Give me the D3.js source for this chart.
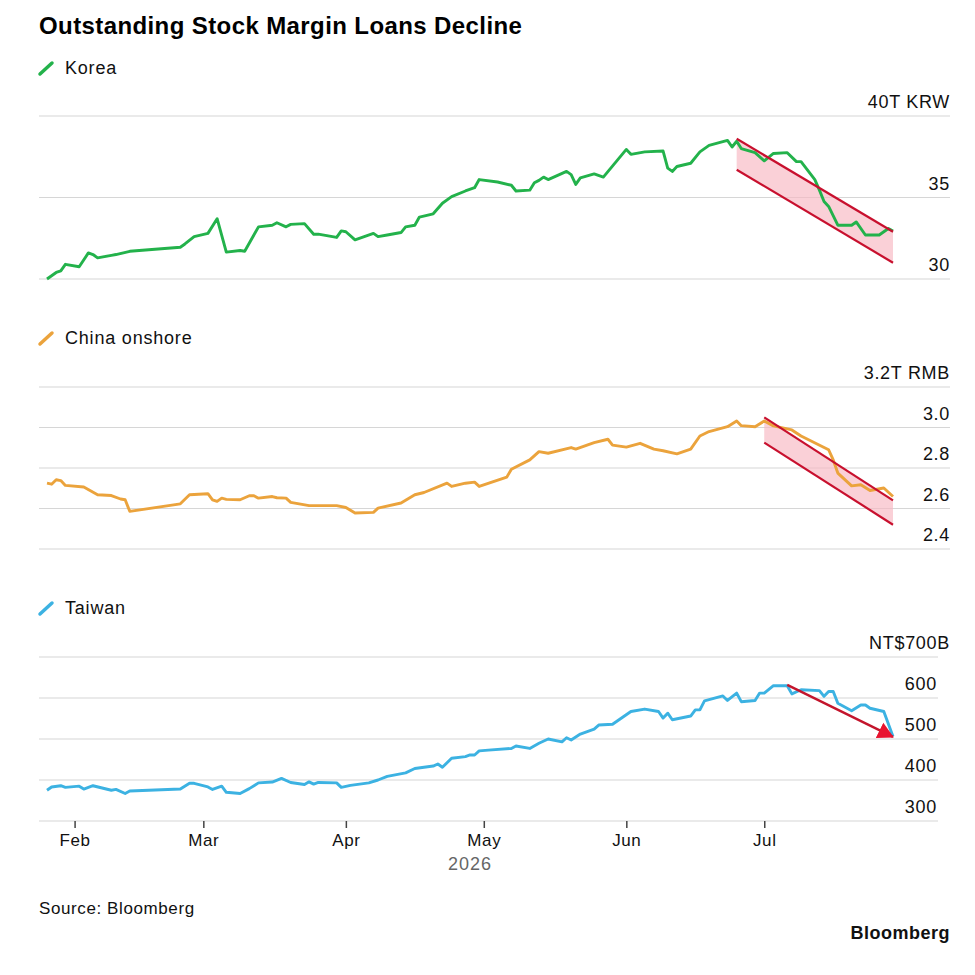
<!DOCTYPE html>
<html>
<head>
<meta charset="utf-8">
<script src="https://cdn.jsdelivr.net/npm/d3@7"></script>
<style>
  body { margin: 0; background: #fff; }
  svg { font-family: "Liberation Sans", Arial, Helvetica, sans-serif; }
</style>
</head>
<body>
<div id="chart"></div>
<script>
// series values, [date, value]
const korea = [
  ["2026-01-26", 30.0], ["2026-01-28", 30.4], ["2026-01-29", 30.5], ["2026-01-30", 30.9],
  ["2026-02-02", 30.75], ["2026-02-04", 31.6], ["2026-02-05", 31.5], ["2026-02-06", 31.3],
  ["2026-02-09", 31.45], ["2026-02-10", 31.5], ["2026-02-13", 31.7], ["2026-02-24", 31.95],
  ["2026-02-25", 32.15], ["2026-02-27", 32.6], ["2026-03-02", 32.8], ["2026-03-04", 33.7],
  ["2026-03-06", 31.65], ["2026-03-09", 31.75], ["2026-03-10", 31.7], ["2026-03-13", 33.2],
  ["2026-03-16", 33.3], ["2026-03-17", 33.45], ["2026-03-19", 33.2], ["2026-03-20", 33.35],
  ["2026-03-23", 33.4], ["2026-03-25", 32.75], ["2026-03-26", 32.75], ["2026-03-30", 32.55],
  ["2026-03-31", 32.95], ["2026-04-01", 32.9], ["2026-04-03", 32.4], ["2026-04-07", 32.8],
  ["2026-04-08", 32.6], ["2026-04-10", 32.7], ["2026-04-13", 32.85], ["2026-04-14", 33.2],
  ["2026-04-16", 33.3], ["2026-04-17", 33.8], ["2026-04-20", 34.0], ["2026-04-22", 34.65],
  ["2026-04-24", 35.05], ["2026-04-27", 35.4], ["2026-04-29", 35.6], ["2026-04-30", 36.1],
  ["2026-05-04", 35.95], ["2026-05-07", 35.75], ["2026-05-08", 35.4], ["2026-05-11", 35.45],
  ["2026-05-12", 35.9], ["2026-05-13", 36.05], ["2026-05-14", 36.25], ["2026-05-15", 36.1],
  ["2026-05-19", 36.6], ["2026-05-20", 36.4], ["2026-05-21", 35.8], ["2026-05-22", 36.2],
  ["2026-05-25", 36.45], ["2026-05-27", 36.25], ["2026-06-01", 37.95], ["2026-06-02", 37.65],
  ["2026-06-05", 37.8], ["2026-06-09", 37.85], ["2026-06-10", 36.8], ["2026-06-11", 36.6],
  ["2026-06-12", 36.9], ["2026-06-15", 37.1], ["2026-06-17", 37.8], ["2026-06-19", 38.2],
  ["2026-06-23", 38.5], ["2026-06-24", 38.1], ["2026-06-25", 38.45], ["2026-06-26", 38.0],
  ["2026-06-29", 37.75], ["2026-07-01", 37.25], ["2026-07-03", 37.7], ["2026-07-06", 37.75],
  ["2026-07-08", 37.2], ["2026-07-09", 37.2], ["2026-07-12", 36.1], ["2026-07-13", 35.45],
  ["2026-07-14", 34.75], ["2026-07-15", 34.45], ["2026-07-17", 33.3], ["2026-07-20", 33.3],
  ["2026-07-21", 33.5], ["2026-07-23", 32.7], ["2026-07-26", 32.7], ["2026-07-27", 32.9],
  ["2026-07-28", 33.1], ["2026-07-29", 32.95]
];

const china = [
  ["2026-01-26", 2.725], ["2026-01-27", 2.72], ["2026-01-28", 2.742], ["2026-01-29", 2.738],
  ["2026-01-30", 2.714], ["2026-02-03", 2.706], ["2026-02-06", 2.668], ["2026-02-09", 2.664],
  ["2026-02-11", 2.647], ["2026-02-12", 2.643], ["2026-02-13", 2.586], ["2026-02-24", 2.623],
  ["2026-02-26", 2.668], ["2026-03-02", 2.673], ["2026-03-03", 2.643], ["2026-03-04", 2.635],
  ["2026-03-05", 2.651], ["2026-03-06", 2.645], ["2026-03-09", 2.643], ["2026-03-11", 2.663],
  ["2026-03-12", 2.663], ["2026-03-13", 2.651], ["2026-03-16", 2.659], ["2026-03-17", 2.653],
  ["2026-03-19", 2.651], ["2026-03-20", 2.630], ["2026-03-24", 2.614], ["2026-03-30", 2.614],
  ["2026-04-01", 2.605], ["2026-04-03", 2.578], ["2026-04-07", 2.581], ["2026-04-08", 2.602],
  ["2026-04-13", 2.627], ["2026-04-16", 2.668], ["2026-04-18", 2.679], ["2026-04-23", 2.725],
  ["2026-04-24", 2.709], ["2026-04-27", 2.725], ["2026-04-29", 2.73], ["2026-04-30", 2.709],
  ["2026-05-06", 2.755], ["2026-05-07", 2.794], ["2026-05-11", 2.84], ["2026-05-13", 2.881],
  ["2026-05-15", 2.873], ["2026-05-20", 2.901], ["2026-05-21", 2.893], ["2026-05-25", 2.925],
  ["2026-05-28", 2.942], ["2026-05-29", 2.913], ["2026-06-01", 2.903], ["2026-06-04", 2.922],
  ["2026-06-07", 2.893], ["2026-06-09", 2.885], ["2026-06-12", 2.870], ["2026-06-15", 2.893],
  ["2026-06-17", 2.958], ["2026-06-19", 2.980], ["2026-06-23", 3.004], ["2026-06-25", 3.032],
  ["2026-06-26", 3.009], ["2026-06-29", 3.004], ["2026-07-01", 3.032], ["2026-07-03", 3.008],
  ["2026-07-07", 2.988], ["2026-07-09", 2.958], ["2026-07-15", 2.890], ["2026-07-16", 2.840],
  ["2026-07-17", 2.775], ["2026-07-20", 2.712], ["2026-07-22", 2.717], ["2026-07-24", 2.689],
  ["2026-07-27", 2.701], ["2026-07-29", 2.659]
];

const taiwan = [
  ["2026-01-26", 375], ["2026-01-27", 383], ["2026-01-29", 386], ["2026-01-30", 382],
  ["2026-02-02", 385], ["2026-02-03", 378], ["2026-02-05", 386], ["2026-02-09", 375],
  ["2026-02-10", 377], ["2026-02-12", 367], ["2026-02-13", 373], ["2026-02-24", 378],
  ["2026-02-26", 392], ["2026-02-27", 392], ["2026-03-02", 383], ["2026-03-03", 377],
  ["2026-03-05", 385], ["2026-03-06", 370], ["2026-03-09", 367], ["2026-03-11", 379],
  ["2026-03-13", 393], ["2026-03-16", 395], ["2026-03-18", 404], ["2026-03-20", 394],
  ["2026-03-23", 389], ["2026-03-24", 395.5], ["2026-03-25", 390], ["2026-03-26", 394],
  ["2026-03-30", 393], ["2026-03-31", 382], ["2026-04-02", 387], ["2026-04-06", 393],
  ["2026-04-08", 400], ["2026-04-10", 409], ["2026-04-14", 417.5], ["2026-04-16", 428],
  ["2026-04-20", 434], ["2026-04-21", 439], ["2026-04-22", 431], ["2026-04-24", 453],
  ["2026-04-27", 457], ["2026-04-28", 461], ["2026-04-29", 461], ["2026-04-30", 471],
  ["2026-05-02", 473], ["2026-05-07", 477], ["2026-05-08", 483], ["2026-05-11", 477],
  ["2026-05-13", 489.5], ["2026-05-15", 500], ["2026-05-18", 493], ["2026-05-19", 503],
  ["2026-05-20", 497.6], ["2026-05-22", 512], ["2026-05-25", 524], ["2026-05-26", 534],
  ["2026-05-29", 536], ["2026-06-02", 567], ["2026-06-05", 573], ["2026-06-08", 567],
  ["2026-06-09", 551], ["2026-06-10", 563], ["2026-06-11", 547], ["2026-06-15", 556],
  ["2026-06-16", 571], ["2026-06-17", 571], ["2026-06-18", 593], ["2026-06-22", 605],
  ["2026-06-23", 594], ["2026-06-25", 612], ["2026-06-26", 591], ["2026-06-29", 594],
  ["2026-06-30", 612], ["2026-07-01", 612], ["2026-07-03", 630], ["2026-07-06", 630],
  ["2026-07-07", 610], ["2026-07-09", 620], ["2026-07-13", 618], ["2026-07-14", 604],
  ["2026-07-15", 616], ["2026-07-16", 616], ["2026-07-17", 587], ["2026-07-20", 569],
  ["2026-07-22", 583], ["2026-07-23", 583], ["2026-07-24", 575], ["2026-07-27", 567],
  ["2026-07-29", 506]
];

// annotation channels / arrow: [start, end] as [date, value]
const koreaChannelTop = [["2026-06-25", 38.6], ["2026-07-29", 32.9]];
const koreaChannelBottom = [["2026-06-25", 36.7], ["2026-07-29", 31.0]];
const chinaChannelTop = [["2026-07-01", 3.05], ["2026-07-29", 2.64]];
const chinaChannelBottom = [["2026-07-01", 2.925], ["2026-07-29", 2.52]];
const taiwanArrow = [["2026-07-06", 632], ["2026-07-29", 505]];

// tick values and labels
const koreaTicks = [30, 35, 40];
const koreaTickLabels = ["30", "35", "40T KRW"];
const chinaTicks = [2.4, 2.6, 2.8, 3.0, 3.2];
const chinaTickLabels = ["2.4", "2.6", "2.8", "3.0", "3.2T RMB"];
const taiwanTicks = [300, 400, 500, 600, 700];
const taiwanTickLabels = ["300", "400", "500", "600", "NT$700B"];
const monthTicks = ["2026-02-01", "2026-03-01", "2026-04-01", "2026-05-01", "2026-06-01", "2026-07-01"];

const width = 975, height = 975;
const parseDate = d3.timeParse("%Y-%m-%d");

const svg = d3.select("#chart").append("svg")
    .attr("width", width)
    .attr("height", height);

const x = d3.scaleTime()
    .domain([parseDate("2026-01-26"), parseDate("2026-07-29")])
    .range([47, 893]);

// title
svg.append("text")
    .attr("x", 39).attr("y", 34)
    .attr("font-size", 24).attr("font-weight", "bold")
    .attr("letter-spacing", 0.4)
    .attr("fill", "#000")
    .text("Outstanding Stock Margin Loans Decline");

function drawPanel(opts) {
    const g = svg.append("g");
    const y = d3.scaleLinear().domain(opts.domain).range(opts.range);

    // legend
    g.append("line")
        .attr("x1", 40).attr("y1", opts.legendY)
        .attr("x2", 52).attr("y2", opts.legendY - 11)
        .attr("stroke", opts.color).attr("stroke-width", 3.5)
        .attr("stroke-linecap", "round");
    g.append("text")
        .attr("x", 65).attr("y", opts.legendY)
        .attr("font-size", 18).attr("letter-spacing", 0.8).attr("fill", "#111")
        .text(opts.name);

    // gridlines
    g.selectAll(".grid")
        .data(opts.ticks)
        .join("line")
        .attr("x1", 39).attr("x2", opts.gridRight)
        .attr("y1", d => y(d)).attr("y2", d => y(d))
        .attr("stroke", "#d6d6d6").attr("stroke-width", 1.2);

    // tick labels sit above the gridline, right aligned
    g.selectAll(".tick-label")
        .data(opts.ticks)
        .join("text")
        .attr("x", (d, i) => i === opts.ticks.length - 1 ? 950 : opts.labelRight)
        .attr("y", d => y(d) - 8)
        .attr("text-anchor", "end")
        .attr("font-size", 18).attr("letter-spacing", 0.7).attr("fill", "#111")
        .text((d, i) => opts.tickLabels[i]);

    const pt = d => [x(parseDate(d[0])), y(d[1])];

    // shaded channel
    if (opts.channelTop) {
        const poly = [pt(opts.channelTop[0]), pt(opts.channelTop[1]),
                      pt(opts.channelBottom[1]), pt(opts.channelBottom[0])];
        g.append("path")
            .attr("d", "M" + poly.join("L") + "Z")
            .attr("fill", "#f7b7c1").attr("fill-opacity", 0.65);
    }

    const line = d3.line()
        .x(d => x(parseDate(d[0])))
        .y(d => y(d[1]));

    g.append("path")
        .datum(opts.data)
        .attr("fill", "none")
        .attr("stroke", opts.color)
        .attr("stroke-width", 2.9)
        .attr("stroke-linejoin", "round")
        .attr("d", line);

    if (opts.channelTop) {
        [opts.channelTop, opts.channelBottom].forEach(seg => {
            g.append("path")
                .attr("d", line(seg))
                .attr("stroke", "#c8102e").attr("stroke-width", 2.2)
                .attr("fill", "none");
        });
    }

    if (opts.arrow) {
        g.append("path")
            .attr("d", line(opts.arrow))
            .attr("stroke", "#c3152c").attr("stroke-width", 2.4)
            .attr("fill", "none")
            .attr("marker-end", "url(#arrowhead)");
    }
    return y;
}

// arrowhead for the Taiwan panel
svg.append("defs").append("marker")
    .attr("id", "arrowhead")
    .attr("markerUnits", "userSpaceOnUse")
    .attr("viewBox", "0 -9 16 18")
    .attr("markerWidth", 16).attr("markerHeight", 18)
    .attr("refX", 15).attr("refY", 0)
    .attr("orient", "auto")
    .append("path")
    .attr("d", "M0,-8.5L16,0L0,8.5Z")
    .attr("fill", "#e8132f");

drawPanel({
    name: "Korea", color: "#23b24b", data: korea,
    domain: [30, 40], range: [279, 116], ticks: koreaTicks, tickLabels: koreaTickLabels,
    legendY: 74, gridRight: 950, labelRight: 950,
    channelTop: koreaChannelTop, channelBottom: koreaChannelBottom
});

drawPanel({
    name: "China onshore", color: "#eba33c", data: china,
    domain: [2.4, 3.2], range: [549, 387], ticks: chinaTicks, tickLabels: chinaTickLabels,
    legendY: 344, gridRight: 950, labelRight: 950,
    channelTop: chinaChannelTop, channelBottom: chinaChannelBottom
});

drawPanel({
    name: "Taiwan", color: "#3cb2e2", data: taiwan,
    domain: [300, 700], range: [821, 657], ticks: taiwanTicks, tickLabels: taiwanTickLabels,
    legendY: 614, gridRight: 938, labelRight: 937,
    arrow: taiwanArrow
});

// x axis under the Taiwan panel
const xAxis = d3.axisBottom(x)
    .tickValues(monthTicks.map(parseDate))
    .tickFormat(d3.timeFormat("%b"))
    .tickSize(7)
    .tickPadding(6);

const ax = svg.append("g")
    .attr("transform", "translate(0,821)")
    .call(xAxis);
ax.select(".domain").remove();
ax.selectAll(".tick line").attr("stroke", "#444").attr("stroke-width", 1.5);
ax.selectAll(".tick text")
    .attr("font-size", 17).attr("letter-spacing", 0.6).attr("fill", "#111")
    .attr("font-family", "Liberation Sans, Arial, sans-serif");

svg.append("text")
    .attr("x", 470).attr("y", 870)
    .attr("text-anchor", "middle")
    .attr("font-size", 18).attr("fill", "#666")
    .attr("letter-spacing", 1)
    .text("2026");

// footer
svg.append("text")
    .attr("x", 39).attr("y", 914)
    .attr("font-size", 17).attr("letter-spacing", 0.6).attr("fill", "#111")
    .text("Source: Bloomberg");

svg.append("text")
    .attr("x", 950).attr("y", 939)
    .attr("text-anchor", "end")
    .attr("font-size", 18).attr("font-weight", "bold").attr("letter-spacing", 0.5)
    .attr("fill", "#111")
    .text("Bloomberg");
</script>
</body>
</html>
